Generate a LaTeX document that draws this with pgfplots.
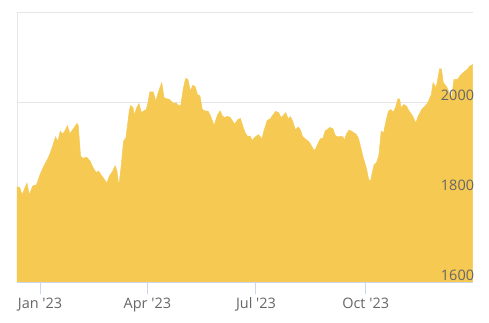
\documentclass[border=0pt]{standalone}
\usepackage{fontspec}
\setmainfont{Open Sans}
\usepackage{pgfplots}
\pgfplotsset{compat=1.18}
\definecolor{goldc}{HTML}{F5C952}
\definecolor{gridc}{HTML}{E6E6E6}
\definecolor{axc}{HTML}{CCD6EB}
\definecolor{labc}{HTML}{666666}
\begin{document}
\begin{tikzpicture}[x=1bp,y=1bp]
\begin{axis}[
  axis on top,
  at={(17bp,39.7bp)}, anchor=south west,
  scale only axis, width=455.7bp, height=269.3bp,
  xmin=-19.3, xmax=362.7, ymin=1600, ymax=2200,
  axis x line*=bottom, axis y line*=right,
  x axis line style={-, draw=axc, line width=1bp},
  y axis line style={draw=none},
  xtick={0,90,181,273},
  xticklabels={Jan \textquotesingle23, Apr \textquotesingle23, Jul \textquotesingle23, Oct \textquotesingle23},
  ytick={1600,1800,2000,2200},
  yticklabels={1600,1800,2000,{}},
  tick align=outside,
  major tick length=12bp,
  xtick style={draw=axc, line width=1bp},
  ytick style={draw=none},
  /pgf/number format/assume math mode=true,
  xticklabel style={font=\fontsize{14.5}{17}\selectfont, text=labc},
  yticklabel style={font=\fontsize{14.5}{17}\selectfont, text=labc, anchor=south east, inner sep=0pt, yshift=1.5bp, xshift=-10.5bp},
  clip=false,
]
\draw[gridc, line width=1bp] (axis cs:-19.3,2000) -- (axis cs:362.7,2000);
\draw[gridc, line width=1bp] (axis cs:-19.3,2200) -- (axis cs:362.7,2200);
\draw[gridc, line width=1bp] (axis cs:-19.3,1600) -- (axis cs:-19.3,2200);
\addplot[fill=goldc, draw=goldc, line width=0.5bp] coordinates {
(-19.3,1813) (-17,1811) (-15,1795) (-11,1821) (-9,1795) (-6,1815) (-3,1817) (0,1840) (3,1858) (6,1873) (8,1884) (10,1899) (13,1924) (15,1914) (17,1937) (19,1930) (21,1938) (23,1949) (25,1931) (28,1942) (31,1954) (32,1950) (34,1881) (36,1876) (39,1879) (42,1870) (44,1858) (47,1844) (49,1848) (51,1840) (54,1829) (56,1821) (58,1836) (61,1848) (63,1860) (64.5,1848) (66,1814) (68,1858) (70,1914) (72,1922) (75,1985) (76,1994) (78,1989) (79,1972) (81,1989) (83,1998) (85,1978) (87,1982) (89,1985) (90.5,2000) (92,2024) (95,2024) (97,2003) (99,2022) (102,2045) (104,2011) (106,2009) (108,2008) (111,2001) (112,1998) (114,2000) (116,1994) (118,1994) (120,2030) (122,2054) (124,2052) (126,2026) (128,2039) (130,2036) (132,2018) (134,2016) (136,1985) (138,1982) (141,1981) (143,1970) (146,1949) (147.5,1963) (149,1974) (151,1982) (153,1970) (155,1967) (157,1970) (159.5,1967) (161.5,1959) (163,1952) (166,1963) (168,1965) (170,1948) (172,1933) (174,1925) (176,1926) (178,1916) (180,1923) (183,1929) (186,1920) (188,1940) (190.5,1961) (193,1964) (195,1972) (197.5,1981) (200,1978) (202,1967) (204,1972) (206,1978) (208,1964) (210,1969) (212,1957) (214,1940) (216.5,1946) (218.5,1938) (220,1925) (223,1918) (225,1914) (227,1907) (229.5,1894) (231,1897) (233,1909) (235,1920) (237,1920) (239,1937) (241.5,1942) (243,1945) (245.5,1942) (247.5,1927) (249.5,1924) (252,1925) (254,1924) (255,1916) (257,1931) (259,1939) (261,1937) (263,1933) (265,1930) (267,1920) (269,1899) (271,1877) (273.5,1855) (275.5,1829) (277,1825) (278,1838) (280,1862) (282,1866) (284,1882) (286,1937) (288,1933) (290,1959) (292,1981) (294,1985) (296,1979) (298,1989) (300,2009) (301.5,2008) (302.5,1989) (305,1996) (307,1993) (309.5,1981) (312,1972) (315,1955) (317,1970) (320,1985) (322.5,1992) (325,2000) (328,2018) (329.5,2045) (332,2033) (335,2076) (336.5,2075) (338,2045) (341,2035) (345,2010) (347,2052) (350,2052) (353,2063) (356,2070) (358,2074) (360.5,2082) (362.7,2085)
} \closedcycle;
\end{axis}
\pgfresetboundingbox
\path (0,0) rectangle (489,322);
\end{tikzpicture}
\end{document}
